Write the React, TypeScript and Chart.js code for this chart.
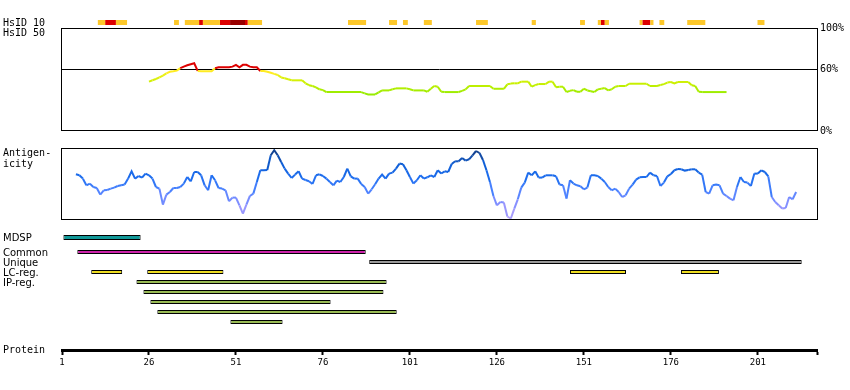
import React, { useEffect, useRef } from 'react';
import { Chart, registerables } from 'chart.js';

Chart.register(...registerables);

// ---------------- data ----------------
const X_MIN = 1;
const X_MAX = 218;
const AXIS_TICKS = [1, 26, 51, 76, 101, 126, 151, 176, 201];
const PERCENT_TICKS = [0, 60, 100];

// HsID 10 strip (residue spans)
const HSID10_ORANGE = [[11.3, 13.4], [16.5, 19.7], [33.2, 34.6], [36.3, 40.4], [41.5, 46.4], [54.4, 58.5], [83.2, 88.4], [95, 97.3], [99, 100.4], [105, 107.3], [120, 123.4], [136, 137.2], [149.9, 151.3], [155, 155.9], [157, 158.2], [167, 167.8], [170.1, 171], [172.7, 174.1], [180.7, 185.9], [200.9, 202.9]];
const HSID10_RED = [[13.4, 16.5], [40.4, 41.5], [46.4, 49.3], [53.6, 54.4], [155.9, 157], [167.8, 170.1]];
const HSID10_DARKRED = [[49.3, 53.6]];

// HsID 50 (% identity), one value per residue starting at residue 26
const HSID50_START = 26;
const HSID50 = [
  48.0, 49.3, 50.5, 52.0, 53.8, 56.0, 57.5, 58.0, 58.6, 61.0,
  62.5, 63.8, 64.8, 65.8, 58.3, 58.0, 58.0, 58.0, 58.0, 60.9,
  61.9, 61.9, 61.9, 61.9, 62.5, 64.2, 61.9, 64.2, 64.2, 62.5,
  62.0, 61.9, 58.3, 58.3, 57.6, 56.6, 55.5, 54.4, 52.0, 51.2,
  50.2, 49.2, 49.2, 49.2, 49.2, 46.3, 44.5, 43.7, 42.4, 40.5,
  39.7, 37.8, 37.8, 37.8, 37.8, 37.8, 37.8, 37.8, 37.8, 37.8,
  37.8, 37.8, 36.5, 35.5, 35.5, 35.5, 37.5, 39.4, 39.4, 39.4,
  40.5, 41.4, 41.4, 41.4, 41.4, 40.5, 39.4, 39.4, 39.4, 39.4,
  38.1, 41.0, 43.7, 43.0, 38.1, 37.8, 37.8, 37.8, 37.8, 37.8,
  39.0, 40.4, 43.7, 43.7, 43.7, 43.7, 43.7, 43.7, 43.7, 41.0,
  41.0, 41.0, 41.0, 45.3, 46.0, 46.3, 46.3, 47.9, 47.9, 47.9,
  43.0, 44.5, 45.6, 45.6, 45.6, 47.9, 47.9, 42.4, 43.0, 43.0,
  37.8, 39.0, 39.7, 38.1, 38.1, 41.0, 39.4, 38.6, 37.8, 40.4,
  41.0, 41.7, 39.4, 40.5, 43.0, 43.7, 43.7, 43.7, 45.9, 45.9,
  45.9, 45.9, 45.9, 45.9, 43.7, 43.7, 43.7, 44.6, 45.5, 47.0,
  47.6, 46.3, 47.6, 47.6, 47.6, 47.6, 44.5, 43.7, 38.1, 37.8,
  37.8, 37.8, 37.8, 37.8, 37.8, 37.8, 37.8,
];

// Antigenicity, one value per residue starting at residue 5
const ANTIGEN_START = 5;
const ANTIGENICITY = [
  45.7, 44.7, 41.4, 34.7, 36.4, 33.0, 32.0, 25.4, 29.7, 30.0,
  31.4, 32.4, 34.0, 34.7, 35.4, 41.4, 48.7, 41.4, 44.0, 42.4,
  46.4, 44.7, 41.4, 33.0, 31.4, 15.4, 25.4, 28.0, 32.0, 32.0,
  33.0, 36.4, 43.0, 38.7, 48.0, 48.0, 44.7, 34.7, 29.7, 44.7,
  39.7, 32.0, 31.4, 29.7, 18.7, 22.4, 22.4, 14.7, 6.4, 15.4,
  24.0, 26.4, 38.0, 49.7, 49.7, 50.0, 64.7, 69.7, 64.7, 58.0,
  51.4, 46.4, 42.0, 45.4, 48.7, 41.4, 40.0, 38.7, 36.0, 44.7,
  45.7, 44.0, 41.4, 38.0, 34.7, 39.4, 38.0, 43.0, 51.4, 43.7,
  41.4, 41.4, 36.0, 33.0, 26.4, 30.7, 35.7, 41.4, 45.4, 41.4,
  46.4, 47.4, 51.4, 56.4, 55.7, 49.7, 43.0, 36.4, 39.7, 44.7,
  41.4, 42.7, 44.7, 43.0, 49.7, 46.5, 48.7, 48.0, 56.0, 58.7,
  58.7, 62.0, 59.4, 60.7, 64.7, 69.0, 67.0, 60.0, 49.7, 38.0,
  24.0, 14.7, 18.0, 17.4, 3.5, 1.5, 11.4, 20.7, 32.4, 37.4,
  47.4, 44.7, 48.7, 42.4, 42.4, 44.7, 44.7, 44.7, 43.7, 35.4,
  34.7, 21.4, 39.7, 36.4, 34.7, 33.7, 30.7, 32.4, 44.7, 44.7,
  44.0, 41.4, 38.0, 33.0, 29.7, 31.4, 28.0, 23.0, 24.7, 31.4,
  35.4, 40.4, 42.7, 43.0, 43.0, 47.4, 44.7, 44.0, 34.0, 37.4,
  43.7, 46.0, 49.7, 51.0, 50.7, 49.4, 50.0, 50.7, 50.7, 47.4,
  45.4, 28.0, 26.4, 34.7, 35.4, 34.7, 26.4, 24.0, 21.4, 19.7,
  33.0, 43.0, 38.0, 37.4, 34.0, 46.4, 46.4, 49.7, 48.0, 43.7,
  23.0, 18.0, 14.7, 11.4, 12.0, 23.0, 20.7, 28.0,
];

// feature tracks (residue spans)
const MDSP_SPANS = [[1.4, 23.6]];
const COMMON_SPANS = [[5.4, 88.3]];
const UNIQUE_SPANS = [[89.3, 213.6]];
const LC_REG_SPANS = [[9.4, 18.3], [25.5, 47.4], [147, 163.1], [178.9, 189.8]];
const IP_REG_SPANS = [[22.4, 94.3], [24.4, 93.4], [26.4, 78.2], [28.4, 97.2], [49.4, 64.4]];
const TRACK_ROWS = ['Common', 'Unique', 'LC-reg.', 'IP-reg. 1', 'IP-reg. 2', 'IP-reg. 3', 'IP-reg. 4', 'IP-reg. 5'];

// ---------------- style ----------------
const W = 850;
const H = 390;
const PLOT_LEFT = 62;
const RIGHT_GAP = 33;
const MONO = "'DejaVu Sans Mono', monospace";
const SANS = "'DejaVu Sans', sans-serif";

function lerpColor(stops: any[], v: number) {
  if (v <= stops[0][0]) return `rgb(${stops[0][1].join(',')})`;
  for (let i = 1; i < stops.length; i++) {
    if (v <= stops[i][0]) {
      const [v0, c0] = stops[i - 1];
      const [v1, c1] = stops[i];
      const t = (v - v0) / (v1 - v0);
      const c = c0.map((x: number, k: number) => Math.round(x + (c1[k] - x) * t));
      return `rgb(${c.join(',')})`;
    }
  }
  return `rgb(${stops[stops.length - 1][1].join(',')})`;
}

const HSID_STOPS = [
  [36, [150, 236, 0]],
  [46, [200, 240, 0]],
  [54.9, [235, 240, 20]],
  [55, [255, 236, 34]],
];
function hsidColor(v: number) {
  if (v > 60) return '#dd0000';
  return lerpColor(HSID_STOPS, v);
}

const ANTI_STOPS = [
  [0, [185, 165, 250]],
  [15, [140, 145, 255]],
  [30, [75, 130, 255]],
  [42, [30, 110, 240]],
  [55, [15, 95, 215]],
  [70, [20, 60, 130]],
];

const framePlugin = {
  id: 'frame',
  afterDraw(chart: any) {
    const { ctx, chartArea: a } = chart;
    ctx.save();
    ctx.strokeStyle = '#000';
    ctx.lineWidth = 1;
    ctx.strokeRect(
      Math.round(a.left) - 0.5,
      Math.round(a.top) + 0.5,
      Math.round(a.right - a.left) + 1,
      Math.round(a.bottom - a.top) - 1
    );
    ctx.restore();
  },
};

function baseOptions(top: number, bottom: number, right = RIGHT_GAP) {
  return {
    responsive: false,
    maintainAspectRatio: false,
    animation: false,
    events: [],
    layout: { padding: { left: PLOT_LEFT, right, top, bottom: H - bottom } },
    plugins: { legend: { display: false }, tooltip: { enabled: false } },
  };
}

const xHidden = { type: 'linear', min: X_MIN, max: X_MAX, display: false };

function spans(list: number[][], row: string) {
  return list.map((s) => ({ x: s, y: row }));
}

export default function App() {
  const c1 = useRef<HTMLCanvasElement>(null);
  const c2 = useRef<HTMLCanvasElement>(null);
  const c3 = useRef<HTMLCanvasElement>(null);
  const c4 = useRef<HTMLCanvasElement>(null);
  const c5 = useRef<HTMLCanvasElement>(null);
  const c6 = useRef<HTMLCanvasElement>(null);

  useEffect(() => {
    document.body.style.margin = '0';
    const charts: any[] = [];

    // HsID 10 strip
    const stripRow = 'HsID 10';
    charts.push(
      new Chart(c1.current as any, {
        type: 'bar',
        data: {
          labels: [stripRow],
          datasets: [
            { data: spans(HSID10_ORANGE, stripRow), backgroundColor: '#fdc82a' },
            { data: spans(HSID10_RED, stripRow), backgroundColor: '#dd0000' },
            { data: spans(HSID10_DARKRED, stripRow), backgroundColor: '#990000' },
          ].map((d) => ({ ...d, barThickness: 5, grouped: false, borderWidth: 0, inflateAmount: 0 })),
        } as any,
        options: {
          ...baseOptions(20, 25),
          indexAxis: 'y',
          scales: { x: xHidden, y: { type: 'category', display: false } },
        } as any,
      })
    );

    // HsID 50 line
    charts.push(
      new Chart(c2.current as any, {
        type: 'line',
        data: {
          datasets: [
            {
              data: HSID50.map((v, i) => ({ x: HSID50_START + i, y: v })),
              borderColor: '#99ee00',
              borderWidth: 2,
              pointRadius: 0,
              tension: 0,
              clip: false,
              segment: {
                borderColor: (ctx: any) => hsidColor((ctx.p0.parsed.y + ctx.p1.parsed.y) / 2),
              },
            },
          ],
        } as any,
        options: {
          ...baseOptions(28, 131, 0),
          scales: {
            x: xHidden,
            y: {
              position: 'right',
              min: 0,
              max: 100,
              afterFit: (s: any) => {
                s.width = RIGHT_GAP;
              },
              afterBuildTicks: (s: any) => {
                s.ticks = PERCENT_TICKS.map((v) => ({ value: v }));
              },
              border: { display: false },
              grid: {
                drawTicks: false,
                lineWidth: 1,
                color: (ctx: any) => (ctx.tick && ctx.tick.value === 60 ? '#000' : 'rgba(0,0,0,0)'),
              },
              ticks: {
                padding: 3,
                color: '#000',
                autoSkip: false,
                font: { family: MONO, size: 10 },
                callback: (v: any) => `${v}%`,
              },
            },
          },
        } as any,
        plugins: [framePlugin],
      })
    );

    // Antigenicity
    charts.push(
      new Chart(c3.current as any, {
        type: 'line',
        data: {
          datasets: [
            {
              data: ANTIGENICITY.map((v, i) => ({ x: ANTIGEN_START + i, y: v })),
              borderColor: '#1e6ef0',
              borderWidth: 2,
              pointRadius: 0,
              tension: 0,
              clip: false,
              segment: {
                borderColor: (ctx: any) => lerpColor(ANTI_STOPS, (ctx.p0.parsed.y + ctx.p1.parsed.y) / 2),
              },
            },
          ],
        } as any,
        options: {
          ...baseOptions(148, 220),
          scales: { x: xHidden, y: { type: 'linear', min: 0, max: 72, display: false } },
        } as any,
        plugins: [framePlugin],
      })
    );

    // MDSP track
    charts.push(
      new Chart(c4.current as any, {
        type: 'bar',
        data: {
          labels: ['MDSP'],
          datasets: [
            {
              data: spans(MDSP_SPANS, 'MDSP'),
              backgroundColor: '#119999',
              borderColor: '#000',
              borderWidth: 1,
              borderSkipped: false,
              barThickness: 5,
              grouped: false,
              inflateAmount: 0,
            },
          ],
        } as any,
        options: {
          ...baseOptions(232, 243),
          indexAxis: 'y',
          scales: { x: xHidden, y: { type: 'category', display: false } },
        } as any,
      })
    );

    // Other tracks
    const trackSets = [
      { data: spans(COMMON_SPANS, 'Common'), backgroundColor: '#cc22aa' },
      { data: spans(UNIQUE_SPANS, 'Unique'), backgroundColor: '#999999' },
      { data: spans(LC_REG_SPANS, 'LC-reg.'), backgroundColor: '#eedd22' },
      { data: IP_REG_SPANS.map((s, i) => ({ x: s, y: `IP-reg. ${i + 1}` })), backgroundColor: '#99bb55' },
    ].map((d) => ({
      ...d,
      borderColor: '#000',
      borderWidth: 1,
      borderSkipped: false,
      barThickness: 4,
      grouped: false,
      inflateAmount: 0,
    }));
    charts.push(
      new Chart(c5.current as any, {
        type: 'bar',
        data: { labels: TRACK_ROWS, datasets: trackSets } as any,
        options: {
          ...baseOptions(247, 327),
          indexAxis: 'y',
          scales: { x: xHidden, y: { type: 'category', display: false } },
        } as any,
      })
    );

    // Protein axis
    charts.push(
      new Chart(c6.current as any, {
        type: 'scatter',
        data: { datasets: [] },
        options: {
          responsive: false,
          maintainAspectRatio: false,
          animation: false,
          events: [],
          layout: { padding: { left: PLOT_LEFT, right: RIGHT_GAP, top: 330, bottom: 20 } },
          plugins: { legend: { display: false }, tooltip: { enabled: false } },
          scales: {
            x: {
              type: 'linear',
              position: 'bottom',
              min: X_MIN,
              max: X_MAX,
              afterBuildTicks: (s: any) => {
                s.ticks = [...AXIS_TICKS, X_MAX].map((v) => ({ value: v }));
              },
              afterFit: (s: any) => {
                s.height = 20;
              },
              border: { display: true, color: '#000', width: 3 },
              grid: { drawOnChartArea: false, drawTicks: true, tickLength: 5, tickWidth: 2, tickColor: '#000' },
              ticks: {
                autoSkip: false,
                maxRotation: 0,
                padding: 2,
                color: '#000',
                font: { family: MONO, size: 9 },
                callback: (v: any) => (AXIS_TICKS.includes(v) ? String(v) : ''),
              },
            },
            y: { display: false },
          },
        } as any,
      })
    );

    return () => charts.forEach((c) => c.destroy());
  }, []);

  const canvasStyle: any = { position: 'absolute', left: 0, top: 0, width: W, height: H };
  const label = (text: string, cy: number, font: string, size = 10) => (
    <div
      key={text}
      style={{
        position: 'absolute',
        left: 3,
        top: cy - 6,
        height: 12,
        lineHeight: '12px',
        fontSize: size,
        fontFamily: font,
        color: '#000',
        whiteSpace: 'pre',
      }}
    >
      {text}
    </div>
  );

  return (
    <div style={{ position: 'relative', width: W, height: H, background: '#fff', overflow: 'hidden' }}>
      <canvas ref={c1} width={W} height={H} style={canvasStyle} />
      <canvas ref={c2} width={W} height={H} style={canvasStyle} />
      <canvas ref={c3} width={W} height={H} style={canvasStyle} />
      <canvas ref={c4} width={W} height={H} style={canvasStyle} />
      <canvas ref={c5} width={W} height={H} style={canvasStyle} />
      <canvas ref={c6} width={W} height={H} style={canvasStyle} />
      {label('HsID 10', 22.5, MONO)}
      {label('HsID 50', 32.5, MONO)}
      {label('Antigen-', 152.5, MONO)}
      {label('icity', 163.5, MONO)}
      {label('MDSP', 238, SANS)}
      {label('Common', 252.5, SANS)}
      {label('Unique', 262.5, SANS)}
      {label('LC-reg.', 272.5, SANS)}
      {label('IP-reg.', 282.5, SANS)}
      {label('Protein', 350, MONO)}
    </div>
  );
}
